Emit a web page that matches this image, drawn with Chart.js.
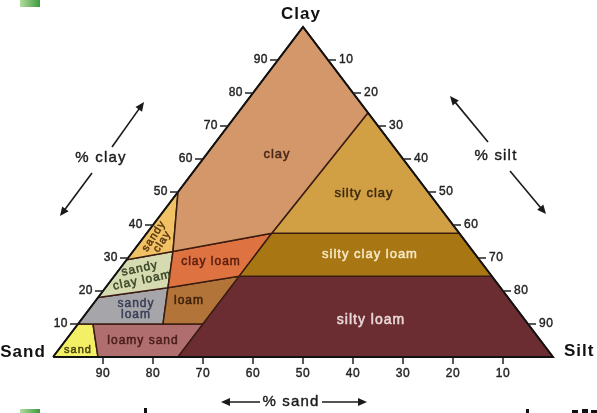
<!DOCTYPE html>
<html>
<head>
<meta charset="utf-8">
<script src="https://cdn.jsdelivr.net/npm/chart.js@4.4.1/dist/chart.umd.min.js"></script>
<style>
  html, body { margin: 0; padding: 0; background: #fff; }
  #wrap { width: 597px; height: 413px; position: relative; }
</style>
</head>
<body>
<div id="wrap"><canvas id="soil"></canvas></div>
<script>
// soil texture classes, each outline as [sand %, clay %] pairs (silt = rest)
var classes = ["clay", "sandy clay", "silty clay", "silty clay loam", "clay loam",
  "sandy clay loam", "silty loam", "loam", "sandy loam", "loamy sand", "sand"];

var clayPts          = [[0, 100], [0, 74], [37.5, 37.5], [60, 32], [50, 50]];
var sandyClayPts     = [[50, 50], [60, 32], [70.5, 29.5]];
var siltyClayPts     = [[0, 74], [0, 37.5], [37.5, 37.5]];
var siltyClayLoamPts = [[37.5, 37.5], [0, 37.5], [0, 24.5], [50.5, 24.5]];
var clayLoamPts      = [[60, 32], [37.5, 37.5], [50.5, 24.5], [66.5, 21]];
var sandyClayLoamPts = [[70.5, 29.5], [60, 32], [66.5, 21], [82, 18]];
var siltyLoamPts     = [[50.5, 24.5], [0, 24.5], [0, 0], [75, 0]];
var loamPts          = [[66.5, 21], [50.5, 24.5], [65, 10], [73, 10]];
var sandyLoamPts     = [[82, 18], [66.5, 21], [73, 10], [90, 10]];
var loamySandPts     = [[87, 10], [65, 10], [75, 0], [91, 0]];
var sandPts          = [[90, 10], [87, 10], [91, 0], [100, 0]];

var outline = [[100, 0], [0, 0], [0, 100]];

// tick labels along the three sides
var clayTicks = [10, 20, 30, 40, 50, 60, 70, 80, 90];
var siltTicks = [10, 20, 30, 40, 50, 60, 70, 80, 90];
var sandTicks = [90, 80, 70, 60, 50, 40, 30, 20, 10];

var polys = [clayPts, sandyClayPts, siltyClayPts, siltyClayLoamPts, clayLoamPts,
  sandyClayLoamPts, siltyLoamPts, loamPts, sandyLoamPts, loamySandPts, sandPts];

var fills = ["#d4976a", "#f0c265", "#d2a044", "#a87612", "#de7240",
  "#d6dab0", "#6b2d31", "#b27438", "#a6a6aa", "#b06e6e", "#f4f066"];

// ternary -> plain x/y (x: 0 at sand corner, 100 at silt corner; y = clay)
function toXY(p) {
  var sand = p[0], clay = p[1];
  var silt = 100 - sand - clay;
  return { x: silt + clay / 2, y: clay };
}
function closed(pts) {
  var d = pts.map(toXY);
  d.push(d[0]);
  return d;
}

var font = '"Liberation Sans", Arial, sans-serif';

// where each class name sits, in chart units
var labelSpots = {
  "clay":            { at: [44.8, 61.5], size: 13, color: "#4a2818" },
  "silty clay":      { at: [62.2, 49.7], size: 13, color: "#3c2a10" },
  "silty clay loam": { at: [63.4, 31.2], size: 13, color: "#f4e8c4" },
  "silty loam":      { at: [63.6, 11.2], size: 14, color: "#ead8d8" },
  "clay loam":       { at: [31.6, 28.8], size: 12, color: "#5a1e0e" },
  "loam":            { at: [27.2, 17.0], size: 12, color: "#3c1e08" },
  "sandy loam":      { at: [16.6, 14.4], size: 12, color: "#3a3e58", split: true, lh: 11 },
  "loamy sand":      { at: [18.0, 4.8],  size: 12, color: "#4a1c1c" },
  "sand":            { at: [5.0, 2.1],   size: 11, color: "#4a4410" },
  "sandy clay":      { at: [21.0, 35.8], size: 11, color: "#5a3a10", split: true, lh: 10, rot: -57 },
  "sandy clay loam": { at: [17.6, 25.0], size: 12, color: "#3a4628", split: true, lh: 12, rot: -12 }
};

var datasets = [{
  data: closed(outline),
  showLine: true,
  fill: false,
  borderColor: "#111",
  borderWidth: 2,
  pointRadius: 0,
  clip: false,
  order: 0
}];
polys.forEach(function(p, i) {
  datasets.push({
    label: classes[i],
    data: closed(p),
    showLine: true,
    fill: "shape",
    backgroundColor: fills[i],
    borderColor: "#3b1c12",
    borderWidth: 1.5,
    pointRadius: 0,
    order: 1
  });
});

function arrow(ctx, x1, y1, x2, y2) {
  var a = Math.atan2(y2 - y1, x2 - x1);
  ctx.beginPath();
  ctx.moveTo(x1, y1);
  ctx.lineTo(x2 - 6 * Math.cos(a), y2 - 6 * Math.sin(a));
  ctx.stroke();
  ctx.beginPath();
  ctx.moveTo(x2, y2);
  ctx.lineTo(x2 - 9 * Math.cos(a) + 4 * Math.sin(a), y2 - 9 * Math.sin(a) - 4 * Math.cos(a));
  ctx.lineTo(x2 - 9 * Math.cos(a) - 4 * Math.sin(a), y2 - 9 * Math.sin(a) + 4 * Math.cos(a));
  ctx.closePath();
  ctx.fill();
}

// text a little heavier than regular, like the scanned original
function heavyText(ctx, t, x, y, w) {
  ctx.lineWidth = w;
  ctx.strokeStyle = ctx.fillStyle;
  ctx.strokeText(t, x, y);
  ctx.fillText(t, x, y);
}

var decor = {
  id: "decor",
  afterDatasetsDraw: function(chart) {
    var ctx = chart.ctx, xs = chart.scales.x, ys = chart.scales.y;
    function px(x, y) { return [xs.getPixelForValue(x), ys.getPixelForValue(y)]; }
    ctx.save();
    ctx.lineJoin = "round";

    // class names
    classes.forEach(function(name) {
      var s = labelSpots[name];
      var p = px(s.at[0], s.at[1]);
      var lines = s.split ? [name.slice(0, name.indexOf(" ")), name.slice(name.indexOf(" ") + 1)] : [name];
      ctx.save();
      ctx.translate(p[0], p[1]);
      if (s.rot) ctx.rotate(s.rot * Math.PI / 180);
      ctx.font = s.size + "px " + font;
      ctx.letterSpacing = "1px";
      ctx.fillStyle = s.color;
      ctx.textAlign = "center";
      ctx.textBaseline = "middle";
      var lh = s.lh || 0;
      lines.forEach(function(t, k) {
        heavyText(ctx, t, 0, (k - (lines.length - 1) / 2) * lh, 0.5);
      });
      ctx.restore();
    });

    // ticks
    ctx.strokeStyle = "#222";
    ctx.fillStyle = "#222";
    ctx.font = "12px " + font;
    ctx.letterSpacing = "0.5px";
    ctx.textBaseline = "middle";

    ctx.textAlign = "right";
    clayTicks.forEach(function(c) {
      var q = toXY([100 - c, c]), p = px(q.x, q.y);
      ctx.lineWidth = 1.5;
      ctx.beginPath(); ctx.moveTo(p[0], p[1]); ctx.lineTo(p[0] - 8, p[1]); ctx.stroke();
      heavyText(ctx, String(c), p[0] - 10, p[1], 0.4);
    });
    ctx.textAlign = "left";
    siltTicks.forEach(function(s) {
      var q = toXY([0, 100 - s]), p = px(q.x, q.y);
      ctx.lineWidth = 1.5;
      ctx.beginPath(); ctx.moveTo(p[0], p[1]); ctx.lineTo(p[0] + 8, p[1]); ctx.stroke();
      heavyText(ctx, String(s), p[0] + 11, p[1], 0.4);
    });
    ctx.textAlign = "center";
    sandTicks.forEach(function(s) {
      var q = toXY([s, 0]), p = px(q.x, q.y);
      ctx.lineWidth = 1.5;
      ctx.beginPath(); ctx.moveTo(p[0], p[1] + 1); ctx.lineTo(p[0], p[1] + 7); ctx.stroke();
      heavyText(ctx, String(s), p[0], p[1] + 17, 0.4);
    });

    // corner names
    ctx.fillStyle = "#111";
    ctx.font = "bold 17px " + font;
    ctx.letterSpacing = "1px";
    ctx.textAlign = "center";
    var top = px(50, 100);
    ctx.fillText("Clay", top[0] - 2, top[1] - 13);
    var left = px(0, 0);
    ctx.fillText("Sand", left[0] - 30, left[1] - 5);
    ctx.textAlign = "left";
    var right = px(100, 0);
    ctx.fillText("Silt", right[0] + 11, right[1] - 6);

    // axis names and arrows
    ctx.font = "15px " + font;
    ctx.letterSpacing = "1.2px";
    ctx.fillStyle = "#1a1a1a";
    ctx.textAlign = "center";
    heavyText(ctx, "% clay", 101, 158, 0.4);
    heavyText(ctx, "% silt", 496, 156, 0.4);
    heavyText(ctx, "% sand", 291, 402, 0.4);
    ctx.strokeStyle = "#1a1a1a";
    ctx.lineWidth = 1.6;
    arrow(ctx, 112, 147, 144, 102);
    arrow(ctx, 92, 173, 60, 216);
    arrow(ctx, 488, 142, 450, 96);
    arrow(ctx, 510, 171, 546, 214);
    arrow(ctx, 260, 402, 221, 402);
    arrow(ctx, 322, 402, 367, 402);

    // slide leftovers at the edges
    var g = ctx.createLinearGradient(20, 0, 40, 0);
    g.addColorStop(0, "#b4dca0");
    g.addColorStop(1, "#3c9a3c");
    ctx.fillStyle = g;
    ctx.fillRect(20, 0, 20, 7);
    ctx.fillRect(20, 409, 20, 4);
    ctx.fillStyle = "#111";
    ctx.fillRect(144, 408, 3, 5);
    ctx.fillRect(526, 409, 3, 4);
    ctx.fillRect(572, 410, 6, 3);
    ctx.fillRect(582, 409, 6, 4);
    ctx.fillRect(591, 410, 6, 3);
    ctx.restore();
  }
};

new Chart("soil", {
  type: "scatter",
  data: { datasets: datasets },
  options: {
    responsive: true,
    maintainAspectRatio: false,
    animation: false,
    events: [],
    layout: { padding: { left: 53, right: 44, top: 27, bottom: 56 } },
    elements: { line: { tension: 0 } },
    scales: {
      x: { type: "linear", min: 0, max: 100, display: false },
      y: { type: "linear", min: 0, max: 100, display: false }
    },
    plugins: {
      legend: { display: false },
      tooltip: { enabled: false }
    }
  },
  plugins: [decor]
});
</script>
</body>
</html>
